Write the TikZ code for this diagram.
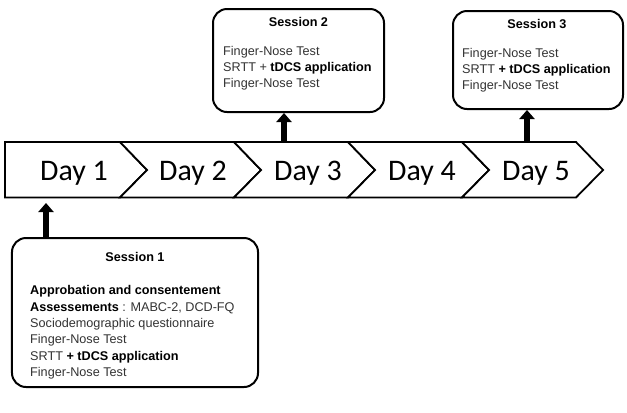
\documentclass[tikz,border=0pt]{standalone}
\usepackage{fontspec}
\setmainfont{Liberation Sans}
\newfontfamily\dayfont{Carlito}
\usetikzlibrary{arrows.meta}
\newcommand\bb[1]{\textcolor{black}{\textbf{#1}}}
\begin{document}
\begin{tikzpicture}[x=1bp,y=-1bp,
  chev/.style={draw=black, line width=1.8bp, fill=white, line join=miter},
  daylabel/.style={font=\dayfont\fontsize{30}{36}\selectfont, anchor=base, inner sep=0},
  sbox/.style={draw, line width=2bp, rounded corners=14bp, fill=white, inner sep=0},
  stxt/.style={anchor=base west, inner sep=0, font=\fontsize{12.7}{15}\selectfont, text=black!80},
  shead/.style={anchor=base, inner sep=0, font=\bfseries\fontsize{12.7}{15}\selectfont, text=black},
  uparrow/.style={line width=6.5bp, -{Triangle[width=15bp,length=9bp]}}
]
\useasboundingbox (0,0) rectangle (627,412);

% timeline chevrons
\draw[chev] (5,142) -- (120,142) -- (147,170) -- (120,197.5) -- (5,197.5) -- cycle;
\foreach \b in {120,234,348,462}{
  \draw[chev] (\b,142) -- (\b+114,142) -- (\b+141,170) -- (\b+114,197.5) -- (\b,197.5) -- (\b+27,170) -- cycle;
}
\node[daylabel] (d1) at (74,180) {Day 1};
\node[daylabel] (d2) at (193,180) {Day 2};
\node[daylabel] (d3) at (308,180) {Day 3};
\node[daylabel] (d4) at (422,180) {Day 4};
\node[daylabel] (d5) at (536,180) {Day 5};

% session boxes
\node[sbox, minimum width=246bp, minimum height=149bp] (s1) at (135,312.5) {};
\node[sbox, minimum width=171bp, minimum height=103bp] (s2) at (298.5,60.5) {};
\node[sbox, minimum width=170bp, minimum height=98bp] (s3) at (538,60) {};

% session 1 text
\node[shead] (h1) at (135,261.5) {Session 1};
\node[stxt] (s1a) at (30,294.5) {\bb{Approbation and consentement}};
\node[stxt] (s1b) at (30,311) {\bb{Assessements} : MABC-2, DCD-FQ};
\node[stxt] (s1c) at (30,327.4) {Sociodemographic questionnaire};
\node[stxt] (s1d) at (30,343.8) {Finger-Nose Test};
\node[stxt] (s1e) at (30,360.2) {SRTT \bb{+ tDCS application}};
\node[stxt] (s1f) at (30,376.6) {Finger-Nose Test};

% session 2 text
\node[shead] (h2) at (298.5,26.5) {Session 2};
\node[stxt] (s2a) at (223,55.5) {Finger-Nose Test};
\node[stxt] (s2b) at (223,71.5) {SRTT + \bb{tDCS application}};
\node[stxt] (s2c) at (223,87.5) {Finger-Nose Test};

% session 3 text
\node[shead] (h3) at (537,28.5) {Session 3};
\node[stxt] (s3a) at (462,57.5) {Finger-Nose Test};
\node[stxt] (s3b) at (462,73.5) {SRTT \bb{+ tDCS application}};
\node[stxt] (s3c) at (462,89.8) {Finger-Nose Test};

% arrows
\coordinate (a1) at (46,203);
\coordinate (t2) at (284,142);
\coordinate (t3) at (527,142);
\draw[uparrow] (s1.north -| a1) -- (a1);
\draw[uparrow] (t2) -- (s2.south -| t2);
\draw[uparrow] (t3) -- (s3.south -| t3);
\end{tikzpicture}
\end{document}
